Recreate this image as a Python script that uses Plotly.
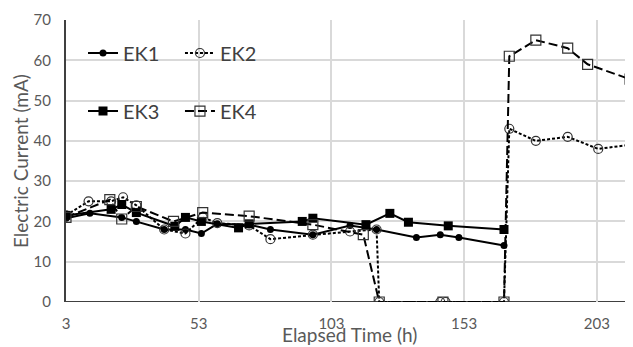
import plotly.graph_objects as go

# ---- data ----
ek1_x = [3, 12, 24, 29.5, 40, 48, 54, 60, 72, 80, 96, 110, 120, 135, 144, 151, 168]
ek1_y = [20.8, 22, 21, 20, 18, 18, 17, 19.4, 19.2, 18, 16.7, 19, 18, 16, 16.7, 16, 14]

ek2_x = [3, 11.5, 20, 24.5, 29.5, 40, 48, 54.5, 60, 72, 80, 96, 110, 120, 121, 144, 146, 168, 170, 180, 192, 203.5, 215.5]
ek2_y = [21.5, 25, 25, 26, 24, 18, 17, 21, 19.6, 19, 15.6, 16.7, 17.5, 18, 0, 0, 0, 0, 43, 40, 41, 38, 39]

ek3_x = [3, 20, 24, 29.5, 44, 48, 54, 68, 72, 92, 96, 116, 125, 132, 147, 168]
ek3_y = [21.5, 23, 24.2, 22.2, 18.8, 21, 20, 18.4, 19.4, 20, 20.8, 19.2, 22, 19.8, 18.9, 18]

ek4_x = [3, 19.5, 24, 29.5, 43.5, 54.5, 72, 96, 115, 121, 145, 168, 170, 180, 192, 199.5, 215.5]
ek4_y = [21, 25.4, 20.6, 23.7, 20, 22.2, 21.3, 19.2, 16.7, 0, 0, 0, 61, 65, 63, 59, 55.3]

x_ticks = [3, 53, 103, 153, 203]
y_ticks = [0, 10, 20, 30, 40, 50, 60, 70]
x_title = "Elapsed Time (h)"
y_title = "Electric Current (mA)"

FONT = "Lato"
GRAY = "#595959"

fig = go.Figure()
fig.add_trace(go.Scatter(x=ek1_x, y=ek1_y, name="EK1", mode="lines+markers",
                         line=dict(color="black", width=2),
                         marker=dict(symbol="circle", size=7, color="black"),
                         legend="legend"))
fig.add_trace(go.Scatter(x=ek2_x, y=ek2_y, name="EK2", mode="lines+markers",
                         line=dict(color="black", width=2, dash="3px,2px"),
                         marker=dict(symbol="circle-open", size=9, color="#333",
                                     line=dict(width=1.2)),
                         legend="legend2"))
fig.add_trace(go.Scatter(x=ek3_x, y=ek3_y, name="EK3", mode="lines+markers",
                         line=dict(color="black", width=2),
                         marker=dict(symbol="square", size=9, color="black"),
                         legend="legend3"))
fig.add_trace(go.Scatter(x=ek4_x, y=ek4_y, name="EK4", mode="lines+markers",
                         line=dict(color="black", width=2, dash="9px,4px"),
                         marker=dict(symbol="square-open", size=10, color="#333",
                                     line=dict(width=1.2)),
                         legend="legend4"))

leg_common = dict(font=dict(family=FONT, size=20, color="#404040"),
                  bgcolor="rgba(0,0,0,0)", xanchor="left", yanchor="middle",
                  itemwidth=30)
fig.update_layout(
    width=625, height=339,
    margin=dict(l=58, r=0, t=12, b=45),
    plot_bgcolor="white", paper_bgcolor="white",
    font=dict(family=FONT, color=GRAY),
    showlegend=True,
    legend=dict(x=0.03, y=0.883, **leg_common),
    legend2=dict(x=0.201, y=0.883, **leg_common),
    legend3=dict(x=0.03, y=0.677, **leg_common),
    legend4=dict(x=0.201, y=0.677, **leg_common),
    xaxis=dict(range=[3, 216.6], tickvals=x_ticks, ticktext=[str(v) for v in x_ticks],
               showgrid=True, gridcolor="#d9d9d9", gridwidth=1.5,
               zeroline=False, showline=False, automargin=False,
               tickfont=dict(size=15, color=GRAY), ticks="", ticklabelstandoff=11),
    yaxis=dict(range=[0, 70], tickvals=y_ticks,
               showgrid=True, gridcolor="#d9d9d9", gridwidth=1.5,
               zeroline=False, showline=True, linecolor="#404040", linewidth=2,
               automargin=False,
               tickfont=dict(size=15, color=GRAY), ticks="", ticklabelstandoff=10),
    annotations=[
        dict(text=x_title, xref="paper", yref="paper", x=0.5, y=-0.1596,
             xanchor="center", yanchor="bottom", showarrow=False, borderpad=0,
             font=dict(family=FONT, size=19, color=GRAY)),
        dict(text=y_title, xref="paper", yref="paper", x=-0.081, y=0.5,
             xanchor="center", yanchor="middle", showarrow=False, textangle=-90,
             font=dict(family=FONT, size=19, color=GRAY)),
    ],
)
fig.add_hline(y=0, line=dict(color="#404040", width=2), layer="below")

fig.write_html("out.html")
